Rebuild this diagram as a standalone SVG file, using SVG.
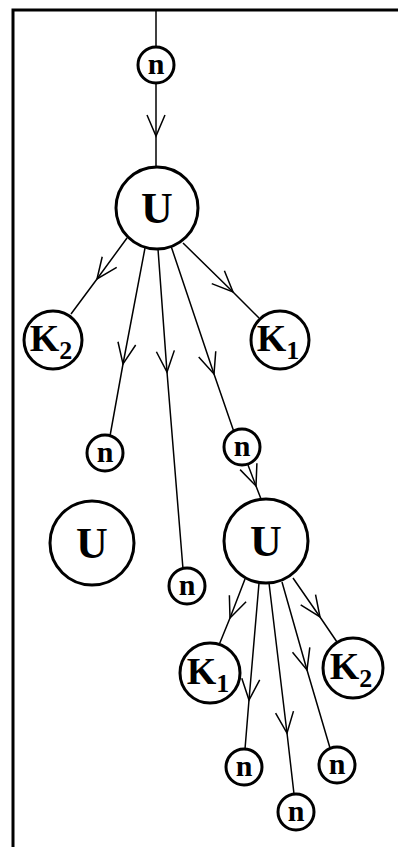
<svg xmlns="http://www.w3.org/2000/svg" width="399" height="847" viewBox="0 0 399 847">
<style>
.c{fill:#fff;stroke:#000;stroke-width:3}
.t{font-family:"Liberation Serif",serif;font-weight:bold;fill:#000;text-anchor:middle}
.n{font-size:30px}
.u{font-size:44px}
.k{font-size:38px}
.s{font-size:26px}
.e{fill:none;stroke:#000;stroke-width:1.5}
</style>
<defs>
<marker id="v" markerUnits="userSpaceOnUse" viewBox="-25 -15 30 30" refX="0" refY="0" markerWidth="30" markerHeight="30" orient="auto" overflow="visible">
<path d="M-21,-9 L0,0 L-21,9" fill="none" stroke="#000" stroke-width="1.5"/>
</marker>
</defs>
<g id="frame" fill="none" stroke="#000" stroke-width="3">
<path d="M13,847 L13,10 L398,10"/>
</g>
<g id="connectors" class="e">
<path d="M156,10 L156,47"/>
<path d="M156,84 L156,136 L156,167" marker-mid="url(#v)"/>
<path d="M127,238 L97,279 L71,314" marker-mid="url(#v)"/>
<path d="M183,243 L233,292 L259,318" marker-mid="url(#v)"/>
<path d="M145,248 L123,364 L110,436" marker-mid="url(#v)"/>
<path d="M158,249 L167,372 L183,569" marker-mid="url(#v)"/>
<path d="M171,246 L214,374 L234,432" marker-mid="url(#v)"/>
<path d="M248,465 L256,486 L261,499" marker-mid="url(#v)"/>
<path d="M245,579 L230,618 L219,645" marker-mid="url(#v)"/>
<path d="M259,583 L249,700 L245,749" marker-mid="url(#v)"/>
<path d="M269,583 L287,733 L294,794" marker-mid="url(#v)"/>
<path d="M282,582 L307,670 L330,748" marker-mid="url(#v)"/>
<path d="M293,578 L320,617 L337,642" marker-mid="url(#v)"/>
</g>
<g id="n-top"><circle class="c" cx="156" cy="65" r="18"/><text class="t n" x="156" y="74">n</text></g>
<g id="u-top"><circle class="c" cx="157" cy="208" r="41"/><text class="t u" x="157" y="223">U</text></g>
<g id="k2-top"><circle class="c" cx="53" cy="340" r="29"/><text class="t k" x="51" y="351">K<tspan class="s" dy="8">2</tspan></text></g>
<g id="k1-top"><circle class="c" cx="280" cy="340" r="29"/><text class="t k" x="278" y="351">K<tspan class="s" dy="8">1</tspan></text></g>
<g id="n-left"><circle class="c" cx="105" cy="453" r="18"/><text class="t n" x="105" y="462">n</text></g>
<g id="n-right"><circle class="c" cx="242" cy="447" r="18"/><text class="t n" x="242" y="456">n</text></g>
<g id="u-left"><circle class="c" cx="92" cy="543" r="42"/><text class="t u" x="92" y="558">U</text></g>
<g id="n-lower"><circle class="c" cx="187" cy="586" r="18"/><text class="t n" x="187" y="595">n</text></g>
<g id="u-right"><circle class="c" cx="266" cy="541" r="42"/><text class="t u" x="266" y="556">U</text></g>
<g id="k1-bottom"><circle class="c" cx="210" cy="673" r="30"/><text class="t k" x="208" y="684">K<tspan class="s" dy="8">1</tspan></text></g>
<g id="k2-bottom"><circle class="c" cx="353" cy="668" r="30"/><text class="t k" x="351" y="679">K<tspan class="s" dy="8">2</tspan></text></g>
<g id="n-bl"><circle class="c" cx="244" cy="767" r="18"/><text class="t n" x="244" y="776">n</text></g>
<g id="n-bm"><circle class="c" cx="296" cy="812" r="18"/><text class="t n" x="296" y="821">n</text></g>
<g id="n-br"><circle class="c" cx="337" cy="765" r="18"/><text class="t n" x="337" y="774">n</text></g>
</svg>
